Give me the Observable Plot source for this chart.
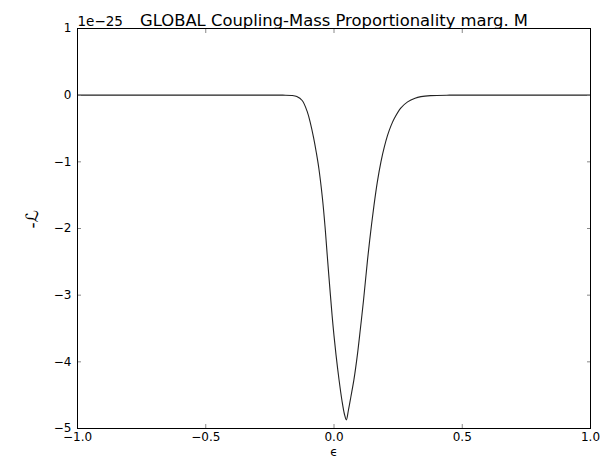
<!DOCTYPE html>
<html><head><meta charset="utf-8">
<script src="https://cdn.jsdelivr.net/npm/d3@7"></script>
<script src="https://cdn.jsdelivr.net/npm/@observablehq/plot@0.6"></script>
<style>body{margin:0;background:#fff;}</style>
</head><body><div id="chart"></div>
<script>
// epsilon values and -L values (units of 1e-25)
const eps = [-1, -0.6, -0.3, -0.2, -0.165, -0.145, -0.124, -0.104, -0.092, -0.080, -0.069, -0.059, -0.045, -0.035, -0.026, -0.014, -0.004, 0.008, 0.020, 0.031, 0.041, 0.048, 0.056, 0.066, 0.078, 0.091, 0.103, 0.115, 0.131, 0.143, 0.156, 0.169, 0.183, 0.196, 0.209, 0.222, 0.235, 0.261, 0.287, 0.316, 0.339, 0.376, 0.45, 0.6, 1.0];
const negL = [0, 0, 0, 0, -0.004, -0.02, -0.08, -0.25, -0.42, -0.63, -0.86, -1.1, -1.55, -1.97, -2.42, -3.0, -3.45, -3.9, -4.28, -4.58, -4.79, -4.87, -4.73, -4.52, -4.26, -3.9, -3.5, -3.08, -2.46, -2.05, -1.65, -1.3, -1.0, -0.78, -0.6, -0.46, -0.35, -0.19, -0.1, -0.045, -0.022, -0.007, 0, 0, 0];
const xTicks = [-1, -0.5, 0, 0.5, 1];
const xTickLabels = ["−1.0", "−0.5", "0.0", "0.5", "1.0"];
const yTicks = [1, 0, -1, -2, -3, -4, -5];
const yTickLabels = ["1", "0", "−1", "−2", "−3", "−4", "−5"];
const title = "GLOBAL Coupling-Mass Proportionality marg. M";
const offsetText = "1e−25";
const xLabel = "ϵ";
const yLabel = "-ℒ";

const data = eps.map((e, i) => ({e, v: negL[i]}));
const noLabel = () => "";

const plot = Plot.plot({
  width: 606, height: 462,
  marginLeft: 77, marginRight: 16, marginTop: 28, marginBottom: 34,
  style: {fontFamily: "DejaVu Sans", fontSize: "12px", background: "white", color: "black"},
  x: {domain: [-1, 1]},
  y: {domain: [-5, 1]},
  marks: [
    Plot.line(data, {x: "e", y: "v", stroke: "#222", strokeWidth: 1.1, curve: "catmull-rom"}),
    Plot.axisX(xTicks, {anchor: "bottom", tickSize: -4, tickPadding: 8, stroke: "#888", fill: "black",
      tickFormat: d => xTickLabels[xTicks.indexOf(d)], label: null}),
    Plot.axisX(xTicks, {anchor: "top", tickSize: -4, stroke: "#888", tickFormat: noLabel, label: null}),
    Plot.axisY(yTicks, {anchor: "left", tickSize: -4, tickPadding: 10, stroke: "#888",
      tickFormat: d => yTickLabels[yTicks.indexOf(d)], label: null}),
    Plot.axisY(yTicks, {anchor: "right", tickSize: -4, stroke: "#888", tickFormat: noLabel, label: null}),
    Plot.frame({stroke: "black", strokeWidth: 1}),
    Plot.text([title], {frameAnchor: "top", lineAnchor: "bottom", dy: -3, fontSize: 16.4, text: d => d}),
    Plot.text([offsetText], {frameAnchor: "top-left", textAnchor: "start", lineAnchor: "bottom", dx: 0, dy: -3, fontSize: 13.5, text: d => d}),
    Plot.text([xLabel], {frameAnchor: "bottom", lineAnchor: "middle", dy: 24, fontSize: 12, text: d => d}),
    Plot.text([yLabel], {frameAnchor: "left", rotate: -90, lineAnchor: "middle", dx: -45, fontSize: 17, text: d => d})
  ]
});
document.getElementById("chart").append(plot);
</script>
</body></html>
